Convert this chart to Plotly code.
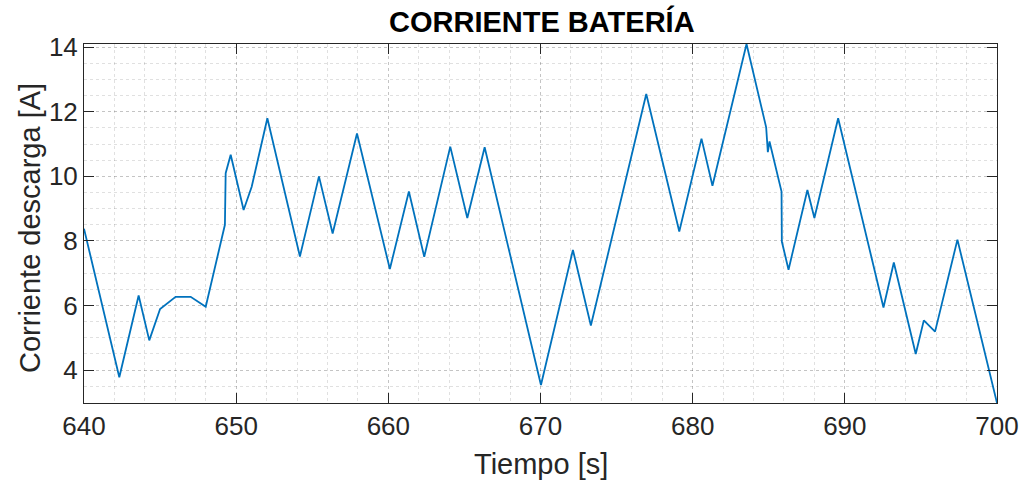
import plotly.graph_objects as go

# Data
tiempo = [640.0, 642.32, 643.59, 644.29, 645.0, 646.02, 647.01, 648.0, 649.26, 649.31,
          649.64, 650.49, 651.02, 652.05, 654.19, 655.44, 656.34, 657.94, 660.1, 661.35,
          662.36, 664.07, 665.19, 666.33, 670.03, 672.13, 673.31, 676.95, 679.12, 680.58,
          681.3, 683.54, 684.83, 684.94, 685.05, 685.84, 685.86, 686.3, 687.54, 688.0,
          689.56, 692.54, 693.22, 694.66, 695.19, 695.93, 697.4, 700.0]
corriente = [8.38, 3.78, 6.31, 4.92, 5.89, 6.27, 6.27, 5.96, 8.50, 10.10,
             10.67, 8.96, 9.68, 11.80, 7.52, 10.0, 8.23, 11.33, 7.13, 9.53,
             7.51, 10.92, 8.71, 10.90, 3.54, 7.72, 5.38, 12.55, 8.29, 11.17,
             9.71, 14.10, 11.52, 10.75, 11.08, 9.53, 7.98, 7.11, 9.58, 8.71,
             11.80, 5.94, 7.33, 4.50, 5.54, 5.19, 8.04, 2.98]
x_ticks = [640, 650, 660, 670, 680, 690, 700]
y_ticks = [4, 6, 8, 10, 12, 14]

titulo = "CORRIENTE BATERÍA"
x_titulo = "Tiempo [s]"
y_titulo = "Corriente descarga [A]"

FONT = "Liberation Sans, Arial, Helvetica, sans-serif"
AXC = "#262626"
GRID = "rgba(0,0,0,0.12)"

fig = go.Figure()
fig.add_trace(go.Scatter(x=tiempo, y=corriente, mode="lines",
                         line=dict(color="#0072BD", width=1.8),
                         showlegend=False, hoverinfo="x+y"))

W, H = 1025, 483
ml, mr, mt, mb = 84, 28, 44, 80
pw, ph = W - ml - mr, H - mt - mb

axis_common = dict(
    showline=True, linecolor=AXC, linewidth=1, mirror="ticks",
    ticks="inside", ticklen=10, tickwidth=1, tickcolor=AXC,
    showgrid=True, gridcolor=GRID, griddash="dot", gridwidth=1,
    zeroline=False, automargin=False,
    tickfont=dict(family=FONT, size=26, color=AXC),
)

fig.update_xaxes(range=[640, 700], tickvals=x_ticks, ticktext=[str(v) for v in x_ticks],
                 minor=dict(dtick=2, tick0=640, showgrid=True, gridcolor=GRID,
                            griddash="dot", gridwidth=1, ticks=""),
                 **axis_common)
fig.update_yaxes(range=[min(corriente), max(corriente)], tickvals=y_ticks,
                 ticktext=[str(v) for v in y_ticks],
                 minor=dict(dtick=0.5, tick0=0, showgrid=True, gridcolor=GRID,
                            griddash="dot", gridwidth=1, ticks=""),
                 **axis_common)

fig.add_annotation(text="<b>" + titulo + "</b>", xref="paper", yref="paper",
                   x=(542 - ml) / pw, y=(403 - 21) / ph,
                   xanchor="center", yanchor="middle", showarrow=False,
                   font=dict(family=FONT, size=29, color="#000000"))
fig.add_annotation(text=x_titulo, xref="paper", yref="paper",
                   x=0.5, y=(403 - 464) / ph, xanchor="center", yanchor="middle",
                   showarrow=False, font=dict(family=FONT, size=29, color=AXC))
fig.add_annotation(text=y_titulo, xref="paper", yref="paper",
                   x=(30 - ml) / pw, y=(403 - 228) / ph, xanchor="center", yanchor="middle",
                   textangle=-90, showarrow=False, font=dict(family=FONT, size=29, color=AXC))

fig.update_layout(width=W, height=H, margin=dict(l=ml, r=mr, t=mt, b=mb, autoexpand=False),
                  paper_bgcolor="white", plot_bgcolor="white")

fig.write_html("out.html")
